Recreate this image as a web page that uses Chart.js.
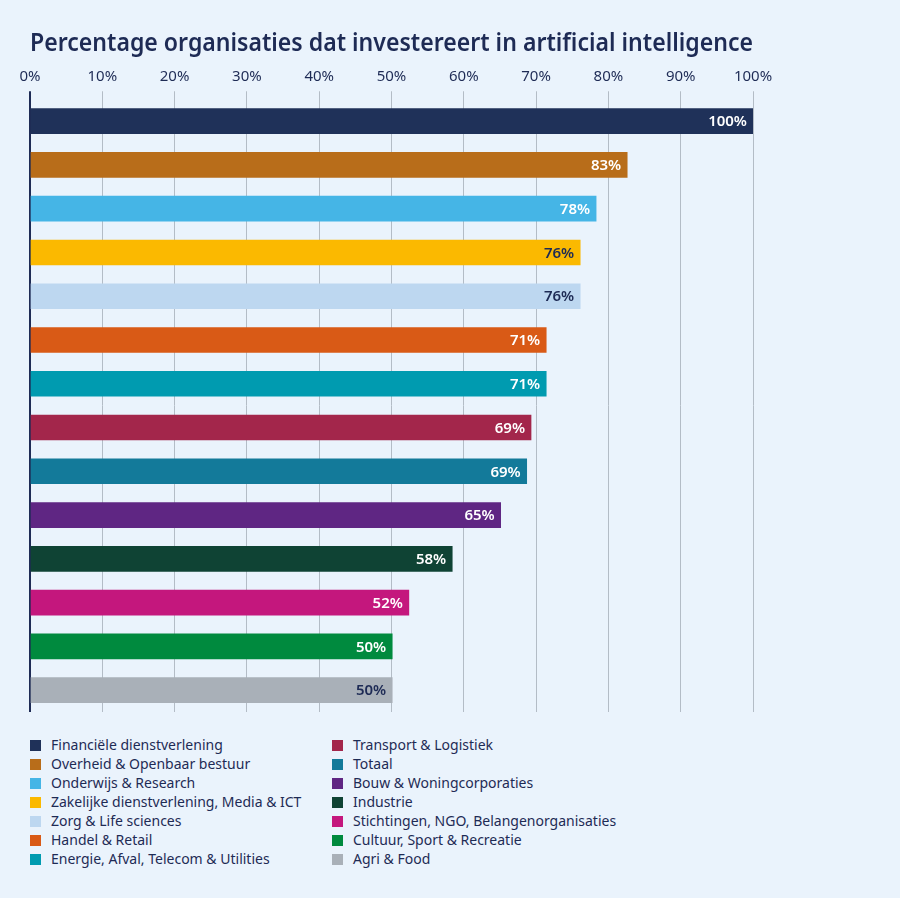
<!DOCTYPE html>
<html>
<head>
<meta charset="utf-8">
<script src="https://cdn.jsdelivr.net/npm/chart.js@4/dist/chart.umd.min.js"></script>
<style>
  html, body { margin: 0; padding: 0; background: #eaf3fc; }
  #wrap { position: relative; width: 900px; height: 898px; }
  #chartBox { position: absolute; left: 0; top: 0; width: 900px; height: 722px; }
  #legend { position: absolute; left: 30px; top: 735px; width: 700px; font-family: 'Noto Sans', sans-serif; font-size: 14px; color: #1e2b55; }
  .col { position: absolute; top: 0; }
  .item { height: 19px; line-height: 19px; white-space: nowrap; }
  .box { display: inline-block; width: 11px; height: 11px; margin-right: 10px; vertical-align: -1px; }
</style>
</head>
<body>
<div id="wrap">
  <div id="chartBox"><canvas id="myChart"></canvas></div>
  <div id="legend"></div>
</div>
<script>
const sectors = [
  'Financiële dienstverlening',
  'Overheid & Openbaar bestuur',
  'Onderwijs & Research',
  'Zakelijke dienstverlening, Media & ICT',
  'Zorg & Life sciences',
  'Handel & Retail',
  'Energie, Afval, Telecom & Utilities',
  'Transport & Logistiek',
  'Totaal',
  'Bouw & Woningcorporaties',
  'Industrie',
  'Stichtingen, NGO, Belangenorganisaties',
  'Cultuur, Sport & Recreatie',
  'Agri & Food',
];
const percentages = [100, 82.6, 78.3, 76.1, 76.1, 71.4, 71.4, 69.3, 68.7, 65.1, 58.4, 52.4, 50.1, 50.1];
const barColors = [
  '#1f3159', '#b86d1a', '#45b5e6', '#fbb900', '#bdd7f0', '#d95a16', '#009bb0',
  '#a3264b', '#137a9a', '#5f2683', '#0f4334', '#c4177d', '#008a3e', '#a9b0b8',
];
const labelColors = [
  '#ffffff', '#ffffff', '#ffffff', '#1e2b55', '#1e2b55', '#ffffff', '#ffffff',
  '#ffffff', '#ffffff', '#ffffff', '#ffffff', '#ffffff', '#ffffff', '#1e2b55',
];
const tickValues = [0, 10, 20, 30, 40, 50, 60, 70, 80, 90, 100];

const navy = '#1e2b55';
const fontFamily = "'Noto Sans', sans-serif";

//etiquetas de valor dentro de las barras
const barLabels = {
  id: 'barLabels',
  afterDatasetsDraw(chart) {
    const { ctx } = chart;
    const meta = chart.getDatasetMeta(0);
    ctx.save();
    ctx.font = `600 15px ${fontFamily}`;
    ctx.textAlign = 'right';
    ctx.textBaseline = 'middle';
    meta.data.forEach((bar, i) => {
      ctx.fillStyle = labelColors[i];
      ctx.fillText(Math.round(percentages[i]) + '%', bar.x - 6, bar.y + 1);
    });
    ctx.restore();
  },
};

const ctx = document.getElementById('myChart');
new Chart(ctx, {
  type: 'bar',
  data: {
    labels: sectors,
    datasets: [
      {
        data: percentages,
        backgroundColor: barColors,
        borderWidth: 0,
        barThickness: 25,
      },
    ],
  },
  options: {
    indexAxis: 'y',
    responsive: true,
    maintainAspectRatio: false,
    animation: false,
    layout: { padding: { left: 30, right: 147, top: 0, bottom: 10 } },
    plugins: {
      legend: { display: false },
      tooltip: { enabled: false },
      title: {
        display: true,
        text: 'Percentage organisaties dat investereert in artificial intelligence',
        align: 'start',
        color: navy,
        font: { family: fontFamily, size: 24.4, weight: '600' },
        padding: { top: 29, bottom: 3 },
      },
    },
    scales: {
      x: {
        position: 'top',
        min: 0,
        max: 100,
        afterBuildTicks: (axis) => {
          axis.ticks = tickValues.map((v) => ({ value: v }));
        },
        afterFit: (axis) => {
          axis.paddingLeft = 0;
        },
        border: { display: false },
        grid: {
          color: (c) => (c.index === 0 ? navy : '#b3bcc6'),
          lineWidth: (c) => (c.index === 0 ? 2 : 1),
          drawTicks: true,
          tickLength: 8,
        },
        ticks: {
          color: navy,
          font: { family: fontFamily, size: 15 },
          padding: 6,
          callback: (v) => v + '%',
        },
      },
      y: {
        display: false,
      },
    },
  },
  plugins: [barLabels],
});

//leyenda en dos columnas
const legend = document.getElementById('legend');
[0, 1].forEach((c) => {
  const col = document.createElement('div');
  col.className = 'col';
  col.style.left = c === 0 ? '0px' : '302px';
  sectors.slice(c * 7, c * 7 + 7).forEach((name, j) => {
    const i = c * 7 + j;
    const item = document.createElement('div');
    item.className = 'item';
    const box = document.createElement('span');
    box.className = 'box';
    box.style.background = barColors[i];
    item.appendChild(box);
    item.appendChild(document.createTextNode(name));
    col.appendChild(item);
  });
  legend.appendChild(col);
});
</script>
</body>
</html>
